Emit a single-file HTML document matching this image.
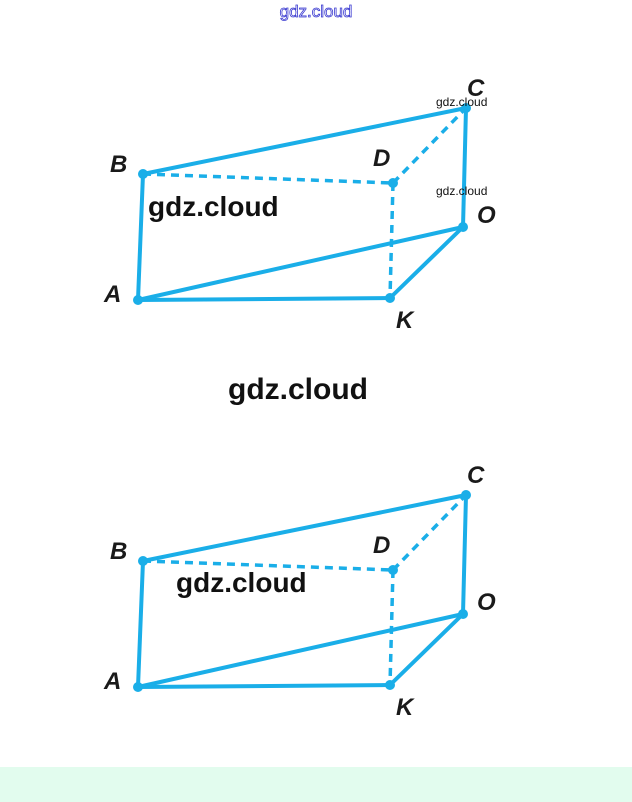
<!DOCTYPE html>
<html><head><style>
html,body{margin:0;padding:0;background:#fff;width:632px;height:802px;overflow:hidden}
svg{display:block}
</style></head><body>
<svg width="632" height="802" xmlns="http://www.w3.org/2000/svg" font-family="Liberation Sans, sans-serif">
<rect x="0" y="767" width="632" height="35" fill="#e2fcee"/>
<text x="316" y="17" text-anchor="middle" font-size="17" fill="#fff" stroke="#3a3ad0" stroke-width="0.8">gdz.cloud</text>
<g id="fig" stroke="#1aaee8" stroke-width="4" stroke-linecap="round" fill="none">
<line x1="143" y1="174" x2="466" y2="108"/>
<line x1="143" y1="174" x2="138" y2="300"/>
<line x1="138" y1="300" x2="390" y2="298"/>
<line x1="138" y1="300" x2="463" y2="227"/>
<line x1="390" y1="298" x2="463" y2="227"/>
<line x1="466" y1="108" x2="463" y2="227"/>
<g stroke-dasharray="8,6" stroke-width="3.5" stroke-linecap="butt">
<line x1="143" y1="174" x2="393" y2="183"/>
<line x1="393" y1="183" x2="466" y2="108"/>
<line x1="393" y1="183" x2="390" y2="298"/>
</g>
<g fill="#1aaee8" stroke="none">
<circle cx="143" cy="174" r="5"/><circle cx="466" cy="108" r="5"/><circle cx="393" cy="183" r="5"/>
<circle cx="138" cy="300" r="5"/><circle cx="390" cy="298" r="5"/><circle cx="463" cy="227" r="5"/>
</g>
</g>
<g font-size="24" font-style="italic" font-weight="bold" fill="#1a1a1a">
<text x="110" y="172">B</text><text x="467" y="96">C</text><text x="373" y="166">D</text>
<text x="477" y="223">O</text><text x="104" y="302">A</text><text x="396" y="328">K</text>
</g>
<use href="#fig" transform="translate(0,387)"/>
<g font-size="24" font-style="italic" font-weight="bold" fill="#1a1a1a">
<text x="110" y="559">B</text><text x="467" y="483">C</text><text x="373" y="553">D</text>
<text x="477" y="610">O</text><text x="104" y="689">A</text><text x="396" y="715">K</text>
</g>
<g fill="#111" font-weight="bold">
<text x="436" y="106" font-size="12" font-weight="normal">gdz.cloud</text>
<text x="436" y="195" font-size="12" font-weight="normal">gdz.cloud</text>
<text x="148" y="216" font-size="28">gdz.cloud</text>
<text x="228" y="399" font-size="30">gdz.cloud</text>
<text x="176" y="592" font-size="28">gdz.cloud</text>
</g>
</svg>
</body></html>
